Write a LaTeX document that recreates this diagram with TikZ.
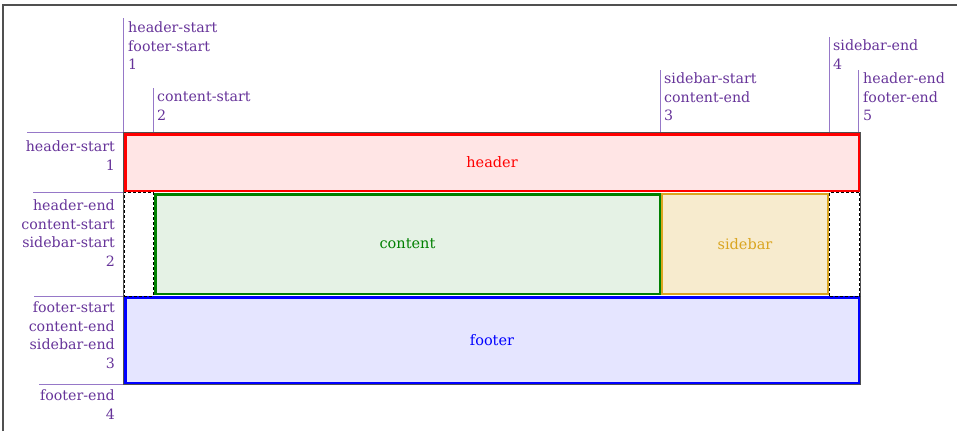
\documentclass[tikz,border=0pt]{standalone}
\usepackage{fontspec}
\setmainfont{DejaVu Serif}
\definecolor{namepurple}{RGB}{102,51,153}
\definecolor{linepurple}{RGB}{150,120,200}
\definecolor{cssgreen}{RGB}{0,128,0}
\definecolor{goldenrod}{RGB}{218,165,32}
\definecolor{framegray}{RGB}{80,80,80}
\begin{document}
\begin{tikzpicture}[
        x=1pt, y=-1pt,
        gridbox/.style={draw=framegray, line width=0.8pt, minimum width=737pt, minimum height=252pt, inner sep=0pt},
        area/.style={line width=2.5pt, inner sep=0pt, font=\fontsize{14.5}{18}\selectfont},
        emptycell/.style={draw=black, densely dashed, line width=1pt, minimum height=104pt, inner sep=0pt},
        colname/.style={anchor=north west, align=left, inner sep=0pt, text=namepurple, font=\fontsize{14.2}{18.5}\selectfont},
        rowname/.style={anchor=north east, align=right, inner sep=0pt, text=namepurple, font=\fontsize{14.2}{18.5}\selectfont},
        marker/.style={linepurple, line width=1pt}
    ]
        \useasboundingbox (0,0) rectangle (957,431);
        % Outer frame
        \draw[framegray, line width=1.5pt] (3,431) -- (3,5) -- (957,5);
        
        % Grid container
        \node[gridbox] (grid) at (491.5,258) {};
        
        % Grid areas
        \node[area, draw=red, fill=red!10, text=red, minimum width=733.5pt, minimum height=56.5pt] (header) at (492,162.5) {header};
        \node[area, draw=cssgreen, fill=cssgreen!10, text=cssgreen, minimum width=504.5pt, minimum height=99.5pt] (content) at (407.5,244) {content};
        \node[area, draw=goldenrod, fill=goldenrod!22, text=goldenrod, line width=2pt, minimum width=166pt, minimum height=100pt] (sidebar) at (745,244) {sidebar};
        \node[area, draw=blue, fill=blue!10, text=blue, minimum width=733.5pt, minimum height=85.5pt] (footer) at (492,340) {footer};
        
        % Empty cells
        \node[emptycell, minimum width=29pt] (gapL) at (138.5,244) {};
        \node[emptycell, minimum width=30pt] (gapR) at (844.5,244) {};
        
        % Column lines
        \coordinate (c1) at (123,18);
        \coordinate (c2) at (153,88);
        \coordinate (c3) at (660,70);
        \coordinate (c4) at (829,37);
        \coordinate (c5) at (858,70);
        \draw[marker] (c1) -- (c1 |- grid.north);
        \draw[marker] (c2) -- (c2 |- grid.north);
        \draw[marker] (c3) -- (c3 |- grid.north);
        \draw[marker] (c4) -- (c4 |- grid.north);
        \draw[marker] (c5) -- (c5 |- grid.north);
        
        \node[colname] (c1name) at (128,22) {header-start\\footer-start\\1};
        \node[colname] (c2name) at (157,92) {content-start\\2};
        \node[colname] (c3name) at (664,73) {sidebar-start\\content-end\\3};
        \node[colname] (c4name) at (833,40) {sidebar-end\\4};
        \node[colname] (c5name) at (863,73) {header-end\\footer-end\\5};
        
        % Row lines
        \coordinate (r1) at (27,132);
        \coordinate (r2) at (33,192);
        \coordinate (r3) at (34,296);
        \coordinate (r4) at (39,384);
        \draw[marker] (r1) -- (r1 -| grid.west);
        \draw[marker] (r2) -- (r2 -| grid.west);
        \draw[marker] (r3) -- (r3 -| grid.west);
        \draw[marker] (r4) -- (r4 -| grid.west);
        
        \node[rowname] (r1name) at (115,141) {header-start\\1};
        \node[rowname] (r2name) at (115,200) {header-end\\content-start\\sidebar-start\\2};
        \node[rowname] (r3name) at (115,302) {footer-start\\content-end\\sidebar-end\\3};
        \node[rowname] (r4name) at (115,390) {footer-end\\4};
    \end{tikzpicture}
\end{document}
